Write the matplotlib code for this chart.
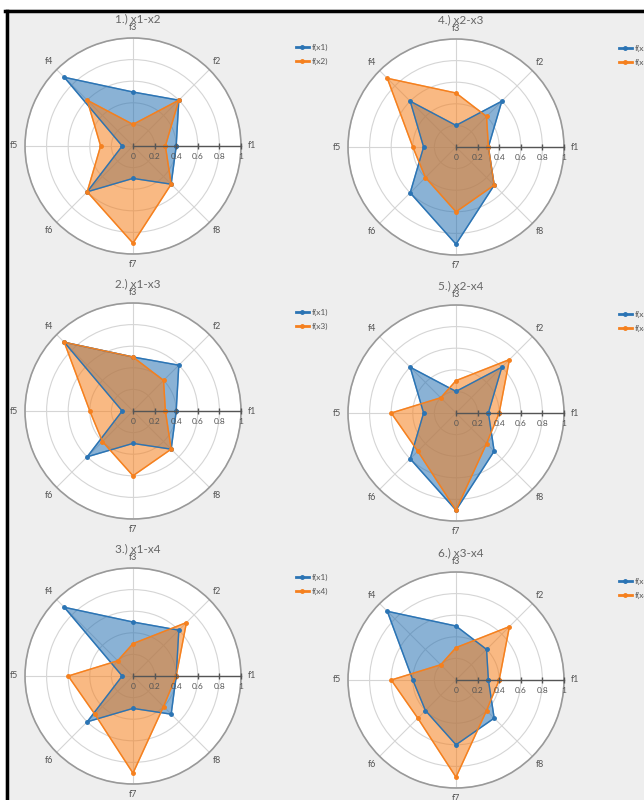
import numpy as np
import matplotlib.pyplot as plt
from matplotlib import transforms
from matplotlib.lines import Line2D
from matplotlib.patches import Rectangle

plt.rcParams['font.family'] = ['Lato', 'DejaVu Sans']

features = ['f1', 'f2', 'f3', 'f4', 'f5', 'f6', 'f7', 'f8']
x1 = [0.4, 0.6, 0.5, 0.9, 0.1, 0.6, 0.3, 0.5]
x2 = [0.3, 0.6, 0.2, 0.6, 0.3, 0.6, 0.9, 0.5]
x3 = [0.3, 0.4, 0.5, 0.9, 0.4, 0.4, 0.6, 0.5]
x4 = [0.4, 0.7, 0.3, 0.2, 0.6, 0.5, 0.9, 0.4]
series = {'x1': x1, 'x2': x2, 'x3': x3, 'x4': x4}
pairs = [('x1', 'x2'), ('x1', 'x3'), ('x1', 'x4'),
         ('x2', 'x3'), ('x2', 'x4'), ('x3', 'x4')]
rticks = [0, 0.2, 0.4, 0.6, 0.8, 1]
rtick_labels = ['0', '0.2', '0.4', '0.6', '0.8', '1']

# axes positions in pixels (centre x, centre y), radius 108 px
centres = [(133, 146), (133, 411), (133, 676),
           (456, 147), (456, 413), (456, 680)]
W, H, R = 644, 800, 108

fig = plt.figure(figsize=(6.44, 8.0), dpi=100, facecolor='#eeeeee')
# white margin and black frame at left/top
fig.patches.append(Rectangle((0, 0), 5 / W, 1, transform=fig.transFigure,
                             facecolor='white', edgecolor='none', zorder=0))
fig.patches.append(Rectangle((0, 1 - 9 / H), 1, 9 / H, transform=fig.transFigure,
                             facecolor='white', edgecolor='none', zorder=0))
fig.lines.append(Line2D([6.5 / W, 6.5 / W], [0, 1 - 10.5 / H], transform=fig.transFigure,
                        color='black', lw=2.5, zorder=5))
fig.lines.append(Line2D([5 / W, 1], [1 - 10.5 / H, 1 - 10.5 / H], transform=fig.transFigure,
                        color='black', lw=2.5, zorder=5))

angles = np.linspace(0, 2 * np.pi, len(features), endpoint=False)
closed = np.concatenate([angles, angles[:1]])
colors = {'a': '#2b74b4', 'b': '#f5801e'}

for n, ((a, b), (cx, cy)) in enumerate(zip(pairs, centres), start=1):
    rect = [(cx - R) / W, (H - cy - R) / H, 2 * R / W, 2 * R / H]
    ax = fig.add_axes(rect, projection='polar')
    ax.set_facecolor('white')
    for key, name in (('a', a), ('b', b)):
        vals = series[name] + series[name][:1]
        ax.plot(closed, vals, color=colors[key], lw=1, marker='o', ms=2.5,
                label='f(%s)' % name, zorder=3)
        ax.fill(closed, vals, color=colors[key], alpha=0.55, zorder=2)
    ax.set_ylim(0, 1)
    ax.set_rgrids([0.2, 0.4, 0.6, 0.8, 1.0], labels=[])
    ax.set_thetagrids(np.degrees(angles), [''] * len(features))
    ax.tick_params(axis='x', colors='#555555', direction='out', length=3, width=0.8)
    ax.grid(color='#d5d5d5', lw=0.8)
    ax.spines['polar'].set_color('#999999')
    ax.spines['polar'].set_linewidth(1.2)
    for th, lab in zip(angles, features):
        ax.text(th, 1.1, lab, ha='center', va='center', fontsize=6.5,
                color='#555555', clip_on=False)

    # radial axis along f1
    ax.plot([0, 0], [0, 1], color='#555555', lw=1, zorder=4, clip_on=False)
    ax.plot(np.zeros(len(rticks)), rticks, ls='none', marker='|', ms=4,
            color='#555555', zorder=4, clip_on=False)
    off = transforms.offset_copy(ax.transData, fig=fig, y=-5, units='points')
    for r, lab in zip(rticks, rtick_labels):
        ax.text(0, r, lab, transform=off, ha='center', va='top',
                fontsize=6, color='#555555', zorder=5)

    ax.text(0.52, 1.09, '%d.) %s-%s' % (n, a, b), transform=ax.transAxes,
            ha='center', va='center', fontsize=8.5, color='#666666')
    leg = ax.legend(loc='upper left', bbox_to_anchor=(1.24, 0.99), frameon=False,
                    fontsize=6, handlelength=1.5, labelcolor='#555555',
                    borderaxespad=0, labelspacing=0.9, handletextpad=0.4)
    for line in leg.get_lines():
        line.set_linewidth(2)

fig.savefig('out.png', dpi=100, facecolor=fig.get_facecolor())
